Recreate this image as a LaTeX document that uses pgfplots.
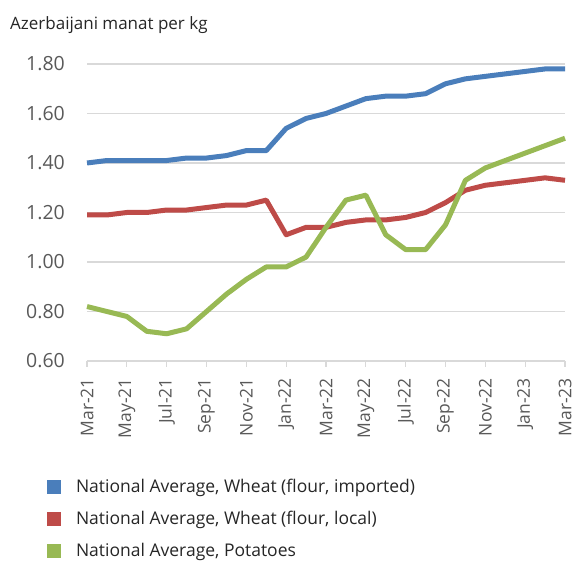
\documentclass[border=0pt]{standalone}
\usepackage{pgfplots}
\pgfplotsset{compat=1.18}
\usepackage{fontspec}
\setmainfont{Open Sans}
\definecolor{cblue}{HTML}{4A7EBB}
\definecolor{cred}{HTML}{BE4B48}
\definecolor{cgreen}{HTML}{98B954}
\definecolor{gridc}{HTML}{D9D9D9}
\definecolor{txt}{HTML}{595959}
\definecolor{ttl}{HTML}{262626}
\begin{document}
\begin{tikzpicture}[x=1bp,y=1bp]
\path[use as bounding box] (0,0) rectangle (576,563);
\node[anchor=base west,font=\fontsize{17bp}{19bp}\selectfont,text=ttl,inner sep=0pt] at (10,533) {Azerbaijani manat per kg};
\begin{axis}[
  at={(87bp,202bp)}, anchor=south west,
  scale only axis, width=478bp, height=297bp,
  xmin=0, xmax=24, ymin=0.6, ymax=1.8,
  xtick={0,2,...,24},
  xticklabels={Mar-21,May-21,Jul-21,Sep-21,Nov-21,Jan-22,Mar-22,May-22,Jul-22,Sep-22,Nov-22,Jan-23,Mar-23},
  x tick label style={rotate=90,anchor=east,font=\fontsize{17.5bp}{19bp}\selectfont,text=txt,inner sep=0pt},
  xticklabel shift=11bp,
  ytick={0.6,0.8,...,1.81},
  y tick label style={font=\fontsize{19.5bp}{21bp}\selectfont,text=txt,inner sep=0pt},
  yticklabel shift=16bp,
  yticklabel={\pgfmathprintnumber[fixed,fixed zerofill,precision=2]{\tick}},
  /pgf/number format/assume math mode=true,
  ymajorgrids, grid style={gridc,line width=1.2bp},
  axis x line*=bottom, axis y line*=left,
  y axis line style={draw=none},
  ytick style={draw=none},
  x axis line style={gridc,line width=1.2bp,-},
  xtick style={gridc,line width=1.2bp},
  major tick length=6bp,
  tick align=outside,
  xtick pos=bottom, ytick pos=left,
  clip=false,
  legend style={at={(-0.084,-0.398)},anchor=north west,draw=none,fill=none,
    font=\fontsize{17.5bp}{19bp}\selectfont,text=ttl,
    row sep=17bp, inner sep=0pt, nodes={inner sep=0pt}},
  legend cell align=left,
  legend image code/.code={\path[fill,#1,draw=none] (0bp,-7bp) rectangle (14bp,7bp); \path[draw=none] (0,0) -- (29bp,0);},
]
\addplot[cblue,line width=5bp,line join=round] coordinates {
(0,1.40)(1,1.41)(2,1.41)(3,1.41)(4,1.41)(5,1.42)(6,1.42)(7,1.43)(8,1.45)(9,1.45)(10,1.54)(11,1.58)(12,1.60)(13,1.63)(14,1.66)(15,1.67)(16,1.67)(17,1.68)(18,1.72)(19,1.74)(20,1.75)(21,1.76)(22,1.77)(23,1.78)(24,1.78)};
\addlegendentry{National Average, Wheat (flour, imported)}
\addplot[cred,line width=5bp,line join=round] coordinates {
(0,1.19)(1,1.19)(2,1.20)(3,1.20)(4,1.21)(5,1.21)(6,1.22)(7,1.23)(8,1.23)(9,1.25)(10,1.11)(11,1.14)(12,1.14)(13,1.16)(14,1.17)(15,1.17)(16,1.18)(17,1.20)(18,1.24)(19,1.29)(20,1.31)(21,1.32)(22,1.33)(23,1.34)(24,1.33)};
\addlegendentry{National Average, Wheat (flour, local)}
\addplot[cgreen,line width=5bp,line join=round] coordinates {
(0,0.82)(1,0.80)(2,0.78)(3,0.72)(4,0.71)(5,0.73)(6,0.80)(7,0.87)(8,0.93)(9,0.98)(10,0.98)(11,1.02)(12,1.14)(13,1.25)(14,1.27)(15,1.11)(16,1.05)(17,1.05)(18,1.15)(19,1.33)(20,1.38)(21,1.41)(22,1.44)(23,1.47)(24,1.50)};
\addlegendentry{National Average, Potatoes}
\end{axis}
\end{tikzpicture}
\end{document}
